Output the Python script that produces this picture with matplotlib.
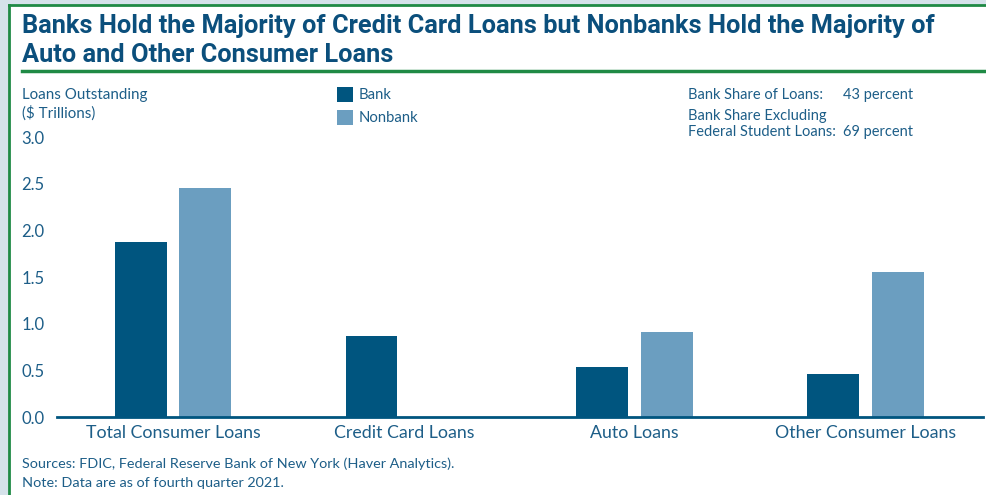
import matplotlib.pyplot as plt
from matplotlib import font_manager
from matplotlib.patches import Rectangle
from matplotlib.lines import Line2D
import numpy as np

categories = ['Total Consumer Loans', 'Credit Card Loans', 'Auto Loans', 'Other Consumer Loans']
bank = [1.88, 0.87, 0.54, 0.46]
nonbank = [2.45, 0.0, 0.91, 1.55]
yticks = [0.0, 0.5, 1.0, 1.5, 2.0, 2.5, 3.0]

names = {f.name for f in font_manager.fontManager.ttflist}
title_font = 'Liberation Sans Narrow' if 'Liberation Sans Narrow' in names else 'Roboto'
body_font = 'Lato' if 'Lato' in names else 'DejaVu Sans'

dark = '#00557f'
light = '#6b9ec0'
text_c = '#1d5e88'
green = '#1f8a45'

W, H = 986, 495
fig = plt.figure(figsize=(W / 100, H / 100), dpi=100)
fig.patch.set_facecolor('white')

def fx(px):
    return px / W

def fy(py):
    return 1 - py / H

# outer frame
fig.patches.append(Rectangle((0, 0), 1, 1, transform=fig.transFigure, facecolor='#d5e2ea', edgecolor='none', zorder=-3))
fig.patches.append(Rectangle((fx(9), 0), 1, fy(5), transform=fig.transFigure, facecolor='white', edgecolor='none', zorder=-2))
fig.lines.append(Line2D([fx(9), fx(9)], [0, fy(5)], transform=fig.transFigure, color=green, lw=2))
fig.lines.append(Line2D([fx(9), 1], [fy(5), fy(5)], transform=fig.transFigure, color=green, lw=2))

# title
fig.text(fx(22), fy(26), 'Banks Hold the Majority of Credit Card Loans but Nonbanks Hold the Majority of',
         family=title_font, weight='bold', fontsize=18.3, color='#0b4f7c', va='center')
fig.text(fx(22), fy(55), 'Auto and Other Consumer Loans',
         family=title_font, weight='bold', fontsize=18.3, color='#0b4f7c', va='center')
fig.lines.append(Line2D([fx(22), 1], [fy(71), fy(71)], transform=fig.transFigure, color=green, lw=2.5))

ax = fig.add_axes([fx(57), fy(417), fx(983) - fx(57), (417 - 137) / H])
x = np.arange(len(categories))
w = 0.225
off = 0.14
ax.bar(x - off, bank, w, color=dark, label='Bank', zorder=2)
ax.bar(x + off, nonbank, w, color=light, label='Nonbank', zorder=2)
ax.set_xlim(-0.503, 3.51)
ax.set_ylim(0, 3)
ax.set_yticks(yticks)
ax.set_yticklabels([f'{v:.1f}' for v in yticks])
ax.set_xticks(x)
ax.set_xticklabels(categories)
for s in ['top', 'right', 'left']:
    ax.spines[s].set_visible(False)
ax.spines['bottom'].set_color(dark)
ax.spines['bottom'].set_linewidth(2)
ax.spines['bottom'].set_zorder(3)
ax.tick_params(axis='both', length=0, labelcolor=text_c)
ax.tick_params(axis='x', pad=6, labelsize=12.8)
ax.tick_params(axis='y', pad=9, labelsize=12)
for lab in ax.get_xticklabels() + ax.get_yticklabels():
    lab.set_family(body_font)

# y label
fig.text(fx(22), fy(95), 'Loans Outstanding', family=body_font, fontsize=10.9, color=text_c, va='center')
fig.text(fx(22), fy(113), '($ Trillions)', family=body_font, fontsize=10.9, color=text_c, va='center')

# legend
for py, col, lab in [(95, dark, 'Bank'), (118, light, 'Nonbank')]:
    fig.patches.append(Rectangle((fx(337), fy(py + 7)), fx(16), 15 / H, transform=fig.transFigure,
                                 facecolor=col, edgecolor='none'))
    fig.text(fx(359), fy(py), lab, family=body_font, fontsize=10.7, color=text_c, va='center')

# share notes
fig.text(fx(688), fy(95), 'Bank Share of Loans:', family=body_font, fontsize=10.5, color=text_c, va='center')
fig.text(fx(843), fy(95), '43 percent', family=body_font, fontsize=10.5, color=text_c, va='center')
fig.text(fx(688), fy(116), 'Bank Share Excluding', family=body_font, fontsize=10.5, color=text_c, va='center')
fig.text(fx(688), fy(132), 'Federal Student Loans:', family=body_font, fontsize=10.5, color=text_c, va='center')
fig.text(fx(843), fy(132), '69 percent', family=body_font, fontsize=10.5, color=text_c, va='center')

# footer
fig.text(fx(22), fy(464), 'Sources: FDIC, Federal Reserve Bank of New York (Haver Analytics).',
         family=body_font, fontsize=10.4, color=text_c, va='center')
fig.text(fx(22), fy(483), 'Note: Data are as of fourth quarter 2021.',
         family=body_font, fontsize=10.4, color=text_c, va='center')

fig.savefig('out.png', dpi=100)
